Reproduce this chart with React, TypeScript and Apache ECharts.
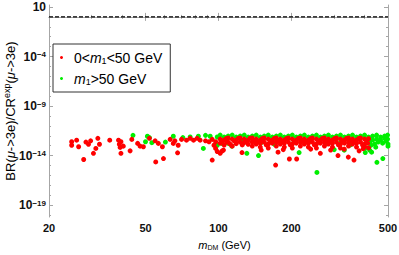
import React, { useEffect, useRef } from "react";
import * as echarts from "echarts";

// Tick values
const xMajorTicks = [20, 50, 100, 200, 500];
const xMinorTicks = [30, 40, 60, 70, 80, 90, 300, 400];
const yMajorTicks = [1e-19, 1e-14, 1e-9, 1e-4, 10];
const yMinorTicks = [1e-20, 1e-18, 1e-17, 1e-16, 1e-15, 1e-13, 1e-12, 1e-11, 1e-10, 1e-8, 1e-7, 1e-6, 1e-5, 1e-3, 1e-2, 1e-1, 1];

// Experimental bound (dashed line)
const boundLine = [[20, 1], [500, 1]];

// 0 < m1 < 50 GeV (red)
const redPoints = [
  [24.8, 2.5e-13], [24.8, 1.1e-13], [26.0, 3.6e-13], [26.5, 7.8e-14], [28.4, 2.3e-13], [29.1, 1.4e-13],
  [29.7, 3.1e-13], [31.8, 5.5e-13], [32.3, 1.4e-13], [31.2, 5.3e-14], [30.5, 1.7e-14], [27.8, 4e-15],
  [35.6, 3.6e-13], [38.7, 3.6e-13], [39.6, 2.5e-13], [39.0, 1.4e-13], [40.5, 9e-14], [39.3, 6.7e-14],
  [39.6, 1.7e-14], [43.2, 3e-14], [43.9, 4.3e-13], [46.4, 1.7e-13], [47.5, 9e-14], [49.0, 7.8e-14],
  [51.9, 5.5e-13], [54.8, 3.1e-13], [56.5, 1.7e-13], [58.7, 7.8e-14], [55.1, 2.3e-15], [59.3, 5e-15],
  [63.2, 4.3e-13], [66.1, 3.1e-13], [65.1, 1.7e-13], [68.2, 1.1e-13], [67.8, 1.9e-14],
  [70.4, 4.3e-13], [73.8, 3.6e-13], [76.4, 5.5e-13], [78.9, 3.6e-13], [81.6, 5.5e-13], [84, 3.6e-13],
  [88.4, 3.1e-13], [91.4, 2.5e-13], [94.2, 4.3e-13], [97.3, 2.5e-13], [95.8, 1.1e-13], [97.3, 5.3e-14],
  [98.8, 2.6e-14], [101.6, 1.7e-14], [104.8, 3.6e-14], [94.2, 3.5e-15], [108, 2.3e-13],
  [103.3, 2.8e-14], [125, 2e-14], [176, 2.2e-14], [172, 1.1e-15], [196, 4.5e-15], [210, 4.5e-15],
  [263, 1.7e-14], [311, 1e-14], [343, 7e-15], [362, 3.5e-15], [185, 4e-14], [240, 4.5e-14],
  [290, 3.6e-14], [330, 4.5e-14], [380, 3e-14], [150, 3.6e-14], [395, 5e-14],
  [101.6, 4.6e-13], [101.6, 1.8e-13], [103.5, 2.9e-13], [105.5, 3.7e-13], [105.5, 1.15e-13], [107.5, 5.2e-13],
  [109.6, 5.9e-13], [109.6, 2.3e-13], [111.7, 1.45e-13], [113.9, 4.6e-13], [113.9, 9e-14], [116, 3e-13],
  [118.3, 3.7e-13], [118.3, 1.6e-13], [120.6, 5.5e-13], [122.9, 5.9e-13], [122.9, 2.3e-13], [125.3, 1.2e-13],
  [127.7, 4.6e-13], [127.7, 2e-13], [130, 3e-13], [132.6, 3.7e-13], [132.6, 1.4e-13], [135, 5.6e-13],
  [137.8, 5.9e-13], [137.8, 2.3e-13], [137.8, 9.1e-14], [140.5, 3.3e-13], [143.1, 4.6e-13], [143.1, 1.45e-13],
  [146, 2.6e-13], [148.7, 3.7e-13], [148.7, 1.8e-13], [148.7, 7.2e-14], [151.5, 5.2e-13], [154.4, 5.9e-13],
  [154.4, 2.3e-13], [157.4, 1.2e-13], [160.4, 4.6e-13], [160.4, 1.45e-13], [160.4, 5.7e-14], [163.5, 3e-13],
  [166.7, 3.7e-13], [166.7, 1.8e-13], [169.9, 5.4e-13], [173.1, 5.9e-13], [173.1, 2.3e-13], [173.1, 9.1e-14],
  [176.5, 3.2e-13], [179.9, 4.6e-13], [179.9, 1.45e-13], [183.3, 2.6e-13], [186.8, 3.7e-13], [186.8, 1.8e-13],
  [186.8, 7.2e-14], [190.4, 5.2e-13], [194.1, 5.9e-13], [194.1, 2.3e-13], [197.8, 1.2e-13], [201.6, 4.6e-13],
  [201.6, 1.45e-13], [201.6, 5.7e-14], [205.5, 3e-13], [209.4, 3.7e-13], [209.4, 1.8e-13], [213.5, 5.4e-13],
  [217.6, 5.9e-13], [217.6, 2.3e-13], [217.6, 9.1e-14], [221.8, 3.2e-13], [226, 4.6e-13], [226, 1.45e-13],
  [230.4, 2.6e-13], [234.8, 3.7e-13], [234.8, 1.8e-13], [234.8, 7.2e-14], [239.3, 5.2e-13], [243.9, 5.9e-13],
  [243.9, 2.3e-13], [248.6, 1.2e-13], [253.4, 4.6e-13], [253.4, 1.45e-13], [253.4, 5.7e-14], [258.3, 3e-13],
  [263.2, 3.7e-13], [263.2, 1.8e-13], [268.3, 5.4e-13], [273.4, 5.9e-13], [273.4, 2.3e-13], [273.4, 9.1e-14],
  [278.7, 3.2e-13], [284, 4.6e-13], [284, 1.45e-13], [289.5, 2.6e-13], [295.1, 3.7e-13], [295.1, 1.8e-13],
  [295.1, 7.2e-14], [300.7, 5.2e-13], [306.5, 5.9e-13], [306.5, 2.3e-13], [312.4, 1.2e-13], [318.4, 4.6e-13],
  [318.4, 1.45e-13], [318.4, 5.7e-14], [324.5, 3e-13], [330.8, 3.7e-13], [330.8, 1.8e-13], [337.1, 5.4e-13],
  [343.6, 5.9e-13], [343.6, 2.3e-13], [343.6, 9.1e-14], [350.2, 3.2e-13], [357, 4.6e-13], [357, 1.45e-13],
  [363.8, 2.6e-13], [370.8, 3.7e-13], [370.8, 1.8e-13], [370.8, 7.2e-14], [378, 5.2e-13], [385.2, 5.9e-13],
  [385.2, 2.3e-13], [392.6, 1.2e-13], [400.2, 4.6e-13], [400.2, 1.45e-13], [400.2, 8e-14], [408, 3e-13],
  [412, 1.8e-13], [415.7, 5e-13], [415.7, 6e-14],
];

// m1 > 50 GeV (green)
const greenPoints = [
  [44.4, 1.1e-12], [50.9, 8.9e-13], [51.9, 6.5e-13], [50.0, 2.5e-13], [53.1, 2e-13], [65.1, 8.9e-13], [60.4, 2.3e-13],
  [71.3, 6.5e-13], [76.4, 7.5e-13], [82.6, 8.9e-13], [88.4, 1.1e-12], [92.4, 8.9e-13], [98.8, 7.5e-13],
  [108, 6.5e-13], [109.8, 1.7e-13], [86.6, 5.3e-14], [98.8, 1.1e-13], [103.2, 1.7e-13],
  [101.6, 1.17e-12], [105.5, 7.4e-13], [109.6, 9.3e-13], [113.9, 1.17e-12], [118.3, 7.4e-13], [122.9, 9.3e-13],
  [127.7, 1.17e-12], [132.6, 7.4e-13], [137.8, 9.3e-13], [143.1, 1.17e-12], [148.7, 7.4e-13], [154.4, 9.3e-13],
  [160.4, 1.17e-12], [166.7, 7.4e-13], [173.1, 9.3e-13], [179.9, 1.17e-12], [186.8, 7.4e-13], [194.1, 9.3e-13],
  [201.6, 1.17e-12], [209.4, 7.4e-13], [217.6, 9.3e-13], [226, 1.17e-12], [234.8, 7.4e-13], [243.9, 9.3e-13],
  [253.4, 1.17e-12], [263.2, 7.4e-13], [273.4, 9.3e-13], [284, 1.17e-12], [295.1, 7.4e-13], [306.5, 9.3e-13],
  [318.4, 1.17e-12], [330.8, 7.4e-13], [343.6, 9.3e-13], [357, 1.17e-12], [370.8, 7.4e-13], [385.2, 9.3e-13],
  [400.2, 1.17e-12], [415.7, 7.4e-13], [431.9, 9.3e-13], [448.6, 1.17e-12], [466, 7.4e-13], [484.1, 9.3e-13],
  [498, 1.17e-12],
  [415.7, 4.6e-13], [420, 2.3e-13], [431.9, 3.7e-13], [440, 1.45e-13], [448.6, 4.6e-13], [455, 2.3e-13],
  [466, 3.7e-13], [475, 1.8e-13], [484.1, 5.9e-13], [490, 2.9e-13], [498, 4.6e-13], [500, 1.45e-13],
  [425, 1.1e-13], [445, 7e-14], [420, 3.6e-14], [428, 2.2e-14], [450, 2.1e-15], [476, 5e-15], [500, 9e-14],
  [403, 5.7e-14], [403, 2e-14], [254.6, 2e-16], [215, 2e-14], [146.2, 1e-14], [130.9, 1.7e-14], [113.5, 9e-14],
  [125, 2.9e-13], [150, 2e-13], [170, 1.4e-13], [205, 2.5e-13], [240, 2.9e-13], [280, 1.6e-13],
  [320, 3e-13], [350, 1.2e-13], [300, 4e-14], [330, 3.5e-14],
];

// y range (decades) shown
const yRangeExp = [-20.2, 1.2];

const FONT = "Liberation Sans, Arial, sans-serif";

const toLog = (pts: number[][]) => pts.map(([x, y]) => [x, Math.log10(y)]);
const expOf = (v: number) => Math.round(Math.log10(v));

function yLabel(e: number) {
  const r = Math.round(e);
  if (r === 1) return "10";
  return "10{sup|" + (r < 0 ? "\u2212" + -r : String(r)) + "}";
}

export default function App() {
  const ref = useRef<HTMLDivElement>(null);
  useEffect(() => {
    if (!ref.current) return;
    const chart = echarts.init(ref.current, undefined, { renderer: "svg" });
    const frameColor = "#a6a6a6";
    const baseX = {
      type: "log" as const, min: 20, max: 500, logBase: 10,
      splitLine: { show: false }, minorTick: { show: false },
      axisLine: { show: true, lineStyle: { color: frameColor, width: 1 } },
    };
    const baseY = {
      type: "value" as const, min: yRangeExp[0], max: yRangeExp[1],
      splitLine: { show: false }, minorTick: { show: false },
      axisLine: { show: true, lineStyle: { color: frameColor, width: 1 } },
    };
    const yMaj = yMajorTicks.map(expOf);
    const yMin = yMinorTicks.map(expOf);
    const tickStyle = { color: frameColor, width: 1 };
    chart.setOption({
      animation: false,
      grid: { left: 49, right: 11, top: 5, bottom: 38, containLabel: false, outerBoundsMode: "none" },
      legend: {
        data: ["red", "green"],
        orient: "vertical",
        left: 53, top: 44,
        padding: [6, 8, 6, 7],
        itemGap: 6,
        itemWidth: 3, itemHeight: 3,
        icon: "circle",
        borderColor: "#333", borderWidth: 1,
        backgroundColor: "#fff",
        formatter: (name: string) => name === "red" ? "0<{i|m}{sub|1}<50 GeV" : "{i|m}{sub|1}>50 GeV",
        textStyle: {
          fontFamily: FONT, fontSize: 14, color: "#000", padding: [0, 0, 0, 6], lineHeight: 15,
          rich: {
            i: { fontFamily: FONT, fontSize: 14, fontStyle: "italic", color: "#000", lineHeight: 15 },
            sub: { fontFamily: FONT, fontSize: 9, color: "#000", verticalAlign: "bottom", lineHeight: 9 },
          },
        },
      },
      xAxis: [
        {
          ...baseX, position: "bottom",
          name: "{i|m}{sub|DM} (GeV)", nameLocation: "middle", nameGap: 21, nameMoveOverlap: false,
          nameTextStyle: {
            fontFamily: FONT, fontSize: 11, color: "#000", lineHeight: 13, padding: [0, 0, 0, 12],
            rich: {
              i: { fontFamily: FONT, fontSize: 11, fontStyle: "italic", color: "#000", lineHeight: 13 },
              sub: { fontFamily: FONT, fontSize: 7, color: "#000", verticalAlign: "bottom", lineHeight: 7 },
            },
          },
          axisTick: { show: true, inside: true, length: 4, lineStyle: tickStyle, customValues: xMajorTicks },
          axisLabel: { show: true, customValues: xMajorTicks, margin: 5, fontFamily: FONT, fontSize: 11, fontWeight: "bold", color: "#111", formatter: (v: number) => String(Math.round(v)) },
        },
        { ...baseX, position: "bottom", axisLine: { show: false }, axisTick: { show: true, inside: true, length: 2, lineStyle: tickStyle, customValues: xMinorTicks }, axisLabel: { show: false } },
        { ...baseX, position: "top", axisTick: { show: true, inside: true, length: 4, lineStyle: tickStyle, customValues: xMajorTicks }, axisLabel: { show: false } },
        { ...baseX, position: "top", axisLine: { show: false }, axisTick: { show: true, inside: true, length: 2, lineStyle: tickStyle, customValues: xMinorTicks }, axisLabel: { show: false } },
      ],
      yAxis: [
        {
          ...baseY, position: "left",
          name: "BR({i|\u03bc}->3e)/CR{sup|exp}({i|\u03bc}->3e)", nameLocation: "middle", nameGap: 31, nameRotate: 90, nameMoveOverlap: false,
          nameTextStyle: {
            fontFamily: FONT, fontSize: 13, color: "#000", lineHeight: 16,
            rich: {
              i: { fontFamily: FONT, fontSize: 13, fontStyle: "italic", color: "#000", lineHeight: 16 },
              sup: { fontFamily: FONT, fontSize: 9, color: "#000", verticalAlign: "top", lineHeight: 9 },
            },
          },
          axisTick: { show: true, inside: true, length: 4, lineStyle: tickStyle, customValues: yMaj },
          axisLabel: {
            show: true, customValues: yMaj, margin: 3, fontFamily: FONT, fontSize: 12, fontWeight: "bold", color: "#111",
            formatter: (v: number) => yLabel(v),
            rich: { sup: { fontFamily: FONT, fontSize: 8, fontWeight: "bold", color: "#111", verticalAlign: "top", lineHeight: 8 } },
          },
        },
        { ...baseY, position: "left", axisLine: { show: false }, axisTick: { show: true, inside: true, length: 2, lineStyle: tickStyle, customValues: yMin }, axisLabel: { show: false } },
        { ...baseY, position: "right", axisTick: { show: true, inside: true, length: 4, lineStyle: tickStyle, customValues: yMaj }, axisLabel: { show: false } },
        { ...baseY, position: "right", axisLine: { show: false }, axisTick: { show: true, inside: true, length: 2, lineStyle: tickStyle, customValues: yMin }, axisLabel: { show: false } },
      ],
      series: [
        {
          name: "bound", type: "line", data: toLog(boundLine), xAxisIndex: 0, yAxisIndex: 0,
          symbol: "none", lineStyle: { color: "#000", width: 1.3, type: [4, 2] }, silent: true,
        },
        {
          name: "green", type: "scatter", data: toLog(greenPoints), xAxisIndex: 0, yAxisIndex: 0,
          symbolSize: 5, itemStyle: { color: "#00ee00", opacity: 1 },
        },
        {
          name: "red", type: "scatter", data: toLog(redPoints), xAxisIndex: 0, yAxisIndex: 0,
          symbolSize: 5, itemStyle: { color: "#ff0000", opacity: 1 },
        },
      ],
    });
    return () => chart.dispose();
  }, []);
  return <div ref={ref} style={{ position: "absolute", left: 0, top: 0, width: 399, height: 255 }} />;
}
